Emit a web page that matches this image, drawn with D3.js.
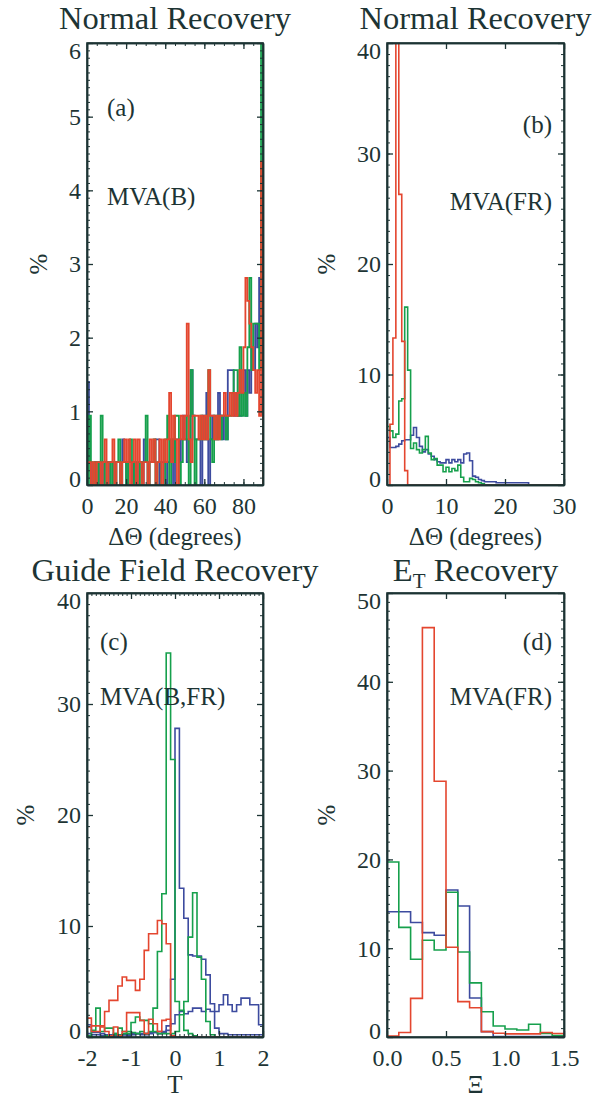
<!DOCTYPE html>
<html>
<head>
<meta charset="utf-8">
<script src="https://cdn.jsdelivr.net/npm/d3@7"></script>
<style>
  body { margin: 0; background: #fff; }
  svg { display: block; }
  text { font-family: "Liberation Serif", "Times New Roman", serif; fill: #1d3434; }
</style>
</head>
<body>
<svg id="chart" width="599" height="1097"></svg>
<script>
// ---- panel (a): normal recovery, MVA(B), 1 degree bins from 0 to 90
const aBlue = [
  1.40, 0.31, 0, 0, 0.31, 0.31, 0, 0.31, 0, 0.31,
  0.31, 0, 0.31, 0.31, 0, 0.31, 0.31, 0, 0.62, 0.31,
  0, 0.31, 0.31, 0, 0.31, 0, 0.31, 0.31, 0, 0.62,
  0.31, 0, 0.31, 0.31, 0.31, 0.62, 0.62, 0, 0.31, 0.31,
  0, 0.31, 0.31, 0.62, 0, 0.62, 0.62, 0.31, 0.62, 0.94,
  0.62, 0.31, 0.62, 1.56, 0.94, 0.62, 0.62, 0.62, 0, 0.94,
  0.62, 1.25, 0, 0.62, 0.94, 0.62, 0.62, 1.25, 0.94, 0.62,
  0.94, 0.62, 1.56, 1.56, 1.56, 0.94, 1.25, 0.94, 0.94, 1.25,
  1.56, 0.94, 1.56, 1.25, 1.87, 1.56, 2.19, 1.87, 2.81, 2.50
];
const aGreen = [
  0, 0.94, 0.31, 0, 0.31, 0, 0.31, 0.94, 0.31, 0,
  0.31, 0.31, 0, 0.31, 0, 0.31, 0.62, 0, 0.31, 0.31,
  0, 0.31, 0.62, 0.31, 0, 0.31, 0.31, 0, 0.31, 0.31,
  0.94, 0, 0.31, 0.31, 0.62, 0, 0.31, 0.31, 0, 0,
  0.62, 0.94, 0, 0.62, 0.31, 0.94, 0.94, 0, 0.31, 0.62,
  0.62, 0.94, 0, 1.56, 0.94, 0, 0.62, 0.62, 0.94, 0.62,
  0.62, 0.94, 1.56, 0.62, 0.31, 0.94, 0.62, 0.94, 0.62, 0.94,
  0.94, 0.62, 0.94, 0.94, 1.25, 1.56, 1.56, 0.94, 1.87, 0.94,
  1.25, 0.94, 1.87, 2.81, 1.56, 2.19, 2.19, 2.19, 1.56, 6.25
];
const aRed = [
  0.31, 0.31, 0, 0.31, 0, 0.31, 0.31, 0, 0.31, 0.62,
  0, 0.31, 0.31, 0.62, 0, 0.31, 0.31, 0, 0.31, 0.62,
  0.31, 0.62, 0, 0.31, 0.62, 0, 0.62, 0.31, 0, 0.31,
  0.31, 0, 0.62, 0.31, 0.62, 0, 0.31, 0.62, 0, 0.62,
  0.31, 0.62, 1.25, 0.31, 0.94, 0.62, 0, 0.62, 0.94, 0.62,
  0.94, 2.19, 0.62, 0.31, 0.94, 0.94, 0.94, 0.62, 0.94, 0.62,
  0.94, 0.62, 1.56, 0.94, 0.94, 0.62, 0.94, 0.62, 0.94, 0.94,
  1.25, 0.94, 0.94, 1.25, 0.94, 1.25, 0.94, 1.25, 1.56, 1.25,
  1.87, 2.81, 2.50, 2.19, 1.87, 1.56, 1.25, 1.56, 0.94, 4.39
];

// ---- panel (b): normal recovery, MVA(FR), 0.5 degree bins from 0 to 30
const bBlue = [
  4.3, 3.4, 3.4, 3.5, 3.7, 4.0, 4.1, 4.1, 4.5, 5.2,
  4.3, 3.5, 3.0, 3.2, 2.8, 2.6, 2.3, 2.1, 2.0, 2.0,
  2.3, 2.0, 2.3, 2.1, 2.3, 2.0, 2.8, 2.9, 2.2, 0.8,
  0.7, 0.5, 0.4, 0.3, 0.3, 0.3, 0.3, 0.2, 0.2, 0.2,
  0.2, 0.2, 0.2, 0.2, 0.2, 0.2, 0.2, 0.2, 0, 0,
  0, 0, 0, 0, 0, 0, 0, 0, 0, 0
];
const bGreen = [
  5.3, 4.9, 4.3, 4.6, 7.6, 7.8, 16.1, 10.4, 3.3, 3.8,
  3.2, 2.9, 3.2, 4.4, 2.9, 2.3, 2.4, 1.8, 1.8, 1.2,
  1.6, 1.2, 1.5, 1.3, 1.8, 0.7, 0.3, 0.3, 0.6, 0.5,
  0.3, 0.2, 0.1, 0, 0, 0, 0, 0, 0, 0,
  0, 0, 0, 0, 0, 0, 0, 0, 0, 0,
  0, 0, 0, 0, 0, 0, 0, 0, 0, 0
];
const bRed = [
  0, 5.5, 13.3, 60.0, 26.3, 13.0, 1.3, 0, 0, 0,
  0, 0, 0, 0, 0, 0, 0, 0, 0, 0,
  0, 0, 0, 0, 0, 0, 0, 0, 0, 0,
  0, 0, 0, 0, 0, 0, 0, 0, 0, 0,
  0, 0, 0, 0, 0, 0, 0, 0, 0, 0,
  0, 0, 0, 0, 0, 0, 0, 0, 0, 0
];

// ---- panel (c): guide field recovery, MVA(B) and MVA(FR), 0.1 bins from -2 to 2
const cBlueB = [
  1.1, 0.4, 0.4, 0.3, 0.2, 0.2, 0.3, 0.2, 0.2, 0.2,
  0.3, 0.3, 0.3, 0.3, 0.4, 0.4, 0.5, 0.4, 0.6, 5.2,
  27.8, 13.4, 10.7, 7.4, 7.3, 7.3, 7.0, 5.6, 3.0, 0.8,
  0.3, 0.3, 0.2, 0.2, 0.2, 0.2, 0.2, 0.2, 0.2, 0.2
];
const cBlueFR = [
  0.3, 0.2, 0.2, 0.1, 0.1, 0.2, 0.1, 0.1, 0.2, 0.1,
  0.2, 0.3, 0.2, 0.2, 0.3, 0.4, 0.3, 0.5, 1.0, 1.2,
  2.0, 2.3, 2.1, 2.3, 2.6, 2.6, 2.3, 2.5, 2.3, 2.3,
  2.9, 3.8, 2.9, 2.3, 2.9, 3.5, 3.5, 2.9, 2.9, 1.1
];
const cGreenB = [
  0.1, 0.6, 2.6, 0.5, 0.8, 0.8, 0.3, 0.8, 0.5, 0.3,
  0.4, 0.3, 0.5, 0.3, 0.5, 2.6, 7.7, 12.9, 34.6, 25.0,
  3.2, 2.4, 0.6, 0.3, 0.1, 0, 0, 0, 0, 0,
  0, 0, 0, 0, 0, 0, 0, 0, 0, 0
];
const cGreenFR = [
  0, 0, 0, 0, 0.1, 0.1, 0.2, 0.2, 0.3, 0.5,
  1.3, 1.8, 1.5, 1.5, 1.2, 0.5, 0.3, 0.3, 0.3, 0.3,
  0.5, 2.0, 3.2, 9.0, 13.0, 7.2, 5.2, 1.4, 0.2, 0,
  0, 0, 0, 0, 0, 0, 0, 0, 0, 0
];
const cRedB = [
  1.7, 1.0, 1.0, 1.0, 2.3, 3.3, 3.3, 4.6, 5.4, 5.1,
  5.1, 4.2, 5.2, 7.8, 9.3, 9.3, 10.5, 10.2, 8.4, 0,
  0, 0, 0, 0, 0, 0, 0, 0, 0, 0,
  0, 0, 0, 0, 0, 0, 0, 0, 0, 0
];
const cRedFR = [
  0.9, 0.5, 0.5, 0.9, 0.5, 0.1, 0.9, 0.1, 0.5, 2.2,
  2.2, 2.2, 1.5, 0.3, 1.6, 1.2, 0.5, 1.5, 1.6, 0.1,
  0, 0, 0, 0, 0, 0, 0, 0, 0, 0,
  0, 0, 0, 0, 0, 0, 0, 0, 0, 0
];

// ---- panel (d): E_T recovery, MVA(FR), 0.1 bins from 0 to 1.5
const dBlue  = [14.1, 14.1, 12.9, 11.75, 11.45, 16.55, 14.75, 4.4, 0.6, 0.05, 0.05, 0.05, 0.05, 0.05, 0.05];
const dGreen = [19.7, 12.35, 8.75, 10.9, 9.8, 16.3, 9.57, 6.1, 2.85, 1.24, 0.9, 0.79, 1.43, 0.41, 0.15];
const dRed   = [0.1, 0.5, 4.35, 46.1, 28.8, 10.1, 3.98, 3.3, 0.6, 0.42, 0.35, 0.35, 0.35, 0.5, 0.4];

// tick labels
const aXTicks = [0, 20, 40, 60, 80];
const aYTicks = [0, 1, 2, 3, 4, 5, 6];
const bXTicks = [0, 10, 20, 30];
const bYTicks = [0, 10, 20, 30, 40];
const cXTicks = [-2, -1, 0, 1, 2];
const cYTicks = [0, 10, 20, 30, 40];
const dXTicks = [0, 0.5, 1.0, 1.5];
const dYTicks = [0, 10, 20, 30, 40, 50];

const INK = "#1d3434";
const BLUE = "#3d4b9f", GREEN = "#16a04c", RED = "#e4462f";
const FONT = '"Liberation Serif", "Times New Roman", serif';

// IDL style labels: plain hyphen for negatives
const intFmt = d => String(d);
const oneDec = d => d.toFixed(1);

const svg = d3.select("#chart");

const panels = [
  {
    key: "a", left: 87, right: 263, top: 43, bottom: 485,
    xDomain: [0, 90], yDomain: [0, 6], lw: 1.8,
    xTicks: aXTicks, xMinor: d3.range(0, 91, 5), xFmt: intFmt,
    yTicks: aYTicks, yMinor: d3.range(0, 6.01, 0.1), yFmt: intFmt,
    title: "Normal Recovery", titleY: 29, xTitle: "\u0394\u0398 (degrees)", xTitleY: 545, yTitleX: 38,
    notes: [["(a)", 107, 116, "start"], ["MVA(B)", 107, 205, "start"]],
    series: [
      { values: aBlue, start: 0, width: 1, color: BLUE },
      { values: aGreen, start: 0, width: 1, color: GREEN },
      { values: aRed, start: 0, width: 1, color: RED }
    ]
  },
  {
    key: "b", left: 387, right: 564, top: 43, bottom: 485,
    xDomain: [0, 30], yDomain: [0, 40], lw: 1.6,
    xTicks: bXTicks, xMinor: [], xFmt: intFmt,
    yTicks: bYTicks, yMinor: d3.range(0, 41, 1), yFmt: intFmt,
    title: "Normal Recovery", titleY: 29, xTitle: "\u0394\u0398 (degrees)", xTitleY: 545, yTitleX: 326,
    notes: [["(b)", 552, 133, "end"], ["MVA(FR)", 552, 210, "end"]],
    series: [
      { values: bBlue, start: 0, width: 0.5, color: BLUE },
      { values: bGreen, start: 0, width: 0.5, color: GREEN },
      { values: bRed, start: 0, width: 0.5, color: RED }
    ]
  },
  {
    key: "c", left: 87, right: 263, top: 593, bottom: 1037,
    xDomain: [-2, 2], yDomain: [0, 40], lw: 1.6,
    xTicks: cXTicks, xMinor: d3.range(-2, 2.001, 0.1), xFmt: intFmt,
    yTicks: cYTicks, yMinor: d3.range(0, 41, 1), yFmt: intFmt,
    title: "Guide Field Recovery", titleY: 581, xTitle: "T", xTitleY: 1093, yTitleX: 25,
    notes: [["(c)", 100, 650, "start"], ["MVA(B,FR)", 100, 705, "start"]],
    series: [
      { values: cBlueB, start: -2, width: 0.1, color: BLUE },
      { values: cBlueFR, start: -2, width: 0.1, color: BLUE },
      { values: cGreenB, start: -2, width: 0.1, color: GREEN },
      { values: cGreenFR, start: -2, width: 0.1, color: GREEN },
      { values: cRedB, start: -2, width: 0.1, color: RED },
      { values: cRedFR, start: -2, width: 0.1, color: RED }
    ]
  },
  {
    key: "d", left: 387, right: 564, top: 593, bottom: 1037,
    xDomain: [0, 1.5], yDomain: [0, 50], lw: 1.6,
    xTicks: dXTicks, xMinor: [], xFmt: oneDec,
    yTicks: dYTicks, yMinor: d3.range(0, 51, 1), yFmt: intFmt,
    title: null, titleY: 581, xTitle: "\u039E", xTitleY: 1093, yTitleX: 326,
    notes: [["(d)", 552, 650, "end"], ["MVA(FR)", 552, 705, "end"]],
    series: [
      { values: dBlue, start: 0, width: 0.1, color: BLUE },
      { values: dGreen, start: 0, width: 0.1, color: GREEN },
      { values: dRed, start: 0, width: 0.1, color: RED }
    ]
  }
];

function styleAxis(g) {
  g.attr("font-family", FONT).attr("font-size", 24);
  g.selectAll("path.domain").attr("stroke", INK).attr("stroke-width", 1.5);
  g.selectAll("line").attr("stroke", INK).attr("stroke-width", 1.3);
  g.selectAll("text").attr("fill", INK).style("font-family", FONT);
}

function drawPanel(p) {
  const x = d3.scaleLinear().domain(p.xDomain).range([p.left, p.right]);
  const y = d3.scaleLinear().domain(p.yDomain).range([p.bottom, p.top]);
  const g = svg.append("g").attr("class", "panel-" + p.key);

  const clipId = "clip-" + p.key;
  svg.append("clipPath").attr("id", clipId).append("rect")
    .attr("x", p.left).attr("y", p.top)
    .attr("width", p.right - p.left).attr("height", p.bottom - p.top);

  // step histograms
  const plot = g.append("g").attr("clip-path", `url(#${clipId})`);
  const line = d3.line().x(d => x(d[0])).y(d => y(d[1]));
  p.series.forEach(s => {
    const pts = [[s.start, 0]];
    s.values.forEach((v, i) => {
      const a = s.start + i * s.width;
      pts.push([a, v], [a + s.width, v]);
    });
    pts.push([s.start + s.values.length * s.width, 0]);
    plot.append("path")
      .attr("d", line(pts))
      .attr("fill", "none")
      .attr("stroke", s.color)
      .attr("stroke-width", p.lw)
      .attr("stroke-linejoin", "miter");
  });

  // minor ticks (all four sides, pointing inward)
  const minor = [
    [d3.axisBottom(x).tickValues(p.xMinor), 0, p.bottom],
    [d3.axisTop(x).tickValues(p.xMinor), 0, p.top],
    [d3.axisLeft(y).tickValues(p.yMinor), p.left, 0],
    [d3.axisRight(y).tickValues(p.yMinor), p.right, 0]
  ];
  minor.forEach(([ax, tx, ty]) => {
    g.append("g").attr("transform", `translate(${tx},${ty})`)
      .call(ax.tickSize(-3).tickSizeOuter(0).tickFormat(""))
      .call(styleAxis)
      .call(a => a.selectAll("line").attr("stroke-width", 1));
  });

  // major ticks and labels
  g.append("g").attr("transform", `translate(0,${p.bottom})`)
    .call(d3.axisBottom(x).tickValues(p.xTicks).tickFormat(p.xFmt).tickSize(-6).tickSizeOuter(0).tickPadding(12))
    .call(styleAxis);
  g.append("g").attr("transform", `translate(0,${p.top})`)
    .call(d3.axisTop(x).tickValues(p.xTicks).tickFormat("").tickSize(-6).tickSizeOuter(0))
    .call(styleAxis);
  g.append("g").attr("transform", `translate(${p.left},0)`)
    .call(d3.axisLeft(y).tickValues(p.yTicks).tickFormat(p.yFmt).tickSize(-6).tickSizeOuter(0).tickPadding(6))
    .call(styleAxis)
    .call(a => a.selectAll(".tick text").attr("dy", d =>
      d === p.yDomain[1] ? "0.64em" : d === p.yDomain[0] ? "0.08em" : "0.33em"));
  g.append("g").attr("transform", `translate(${p.right},0)`)
    .call(d3.axisRight(y).tickValues(p.yTicks).tickFormat("").tickSize(-6).tickSizeOuter(0))
    .call(styleAxis);

  // frame
  g.append("rect")
    .attr("x", p.left).attr("y", p.top)
    .attr("width", p.right - p.left).attr("height", p.bottom - p.top)
    .attr("fill", "none").attr("stroke", INK).attr("stroke-width", 1.6);

  const cx = (p.left + p.right) / 2;
  const cy = (p.top + p.bottom) / 2;

  // title
  if (p.title) {
    g.append("text").attr("x", cx).attr("y", p.titleY)
      .attr("text-anchor", "middle").attr("font-size", 32.5).text(p.title);
  } else {
    const t = g.append("text").attr("x", cx).attr("y", p.titleY)
      .attr("text-anchor", "middle").attr("font-size", 32.5);
    t.append("tspan").text("E");
    t.append("tspan").attr("font-size", 21).attr("dy", 7).text("T");
    t.append("tspan").attr("dy", -7).text(" Recovery");
  }

  // axis titles
  g.append("text").attr("x", cx).attr("y", p.xTitleY)
    .attr("text-anchor", "middle").attr("font-size", 25).text(p.xTitle);
  g.append("text")
    .attr("transform", `translate(${p.yTitleX},${cy}) rotate(-90)`)
    .attr("text-anchor", "middle").attr("dy", "0.35em")
    .attr("font-size", 25).text("%");

  // panel notes
  p.notes.forEach(([txt, nx, ny, anchor]) => {
    g.append("text").attr("x", nx).attr("y", ny)
      .attr("text-anchor", anchor).attr("font-size", 25).text(txt);
  });
}

panels.forEach(drawPanel);
</script>
</body>
</html>
